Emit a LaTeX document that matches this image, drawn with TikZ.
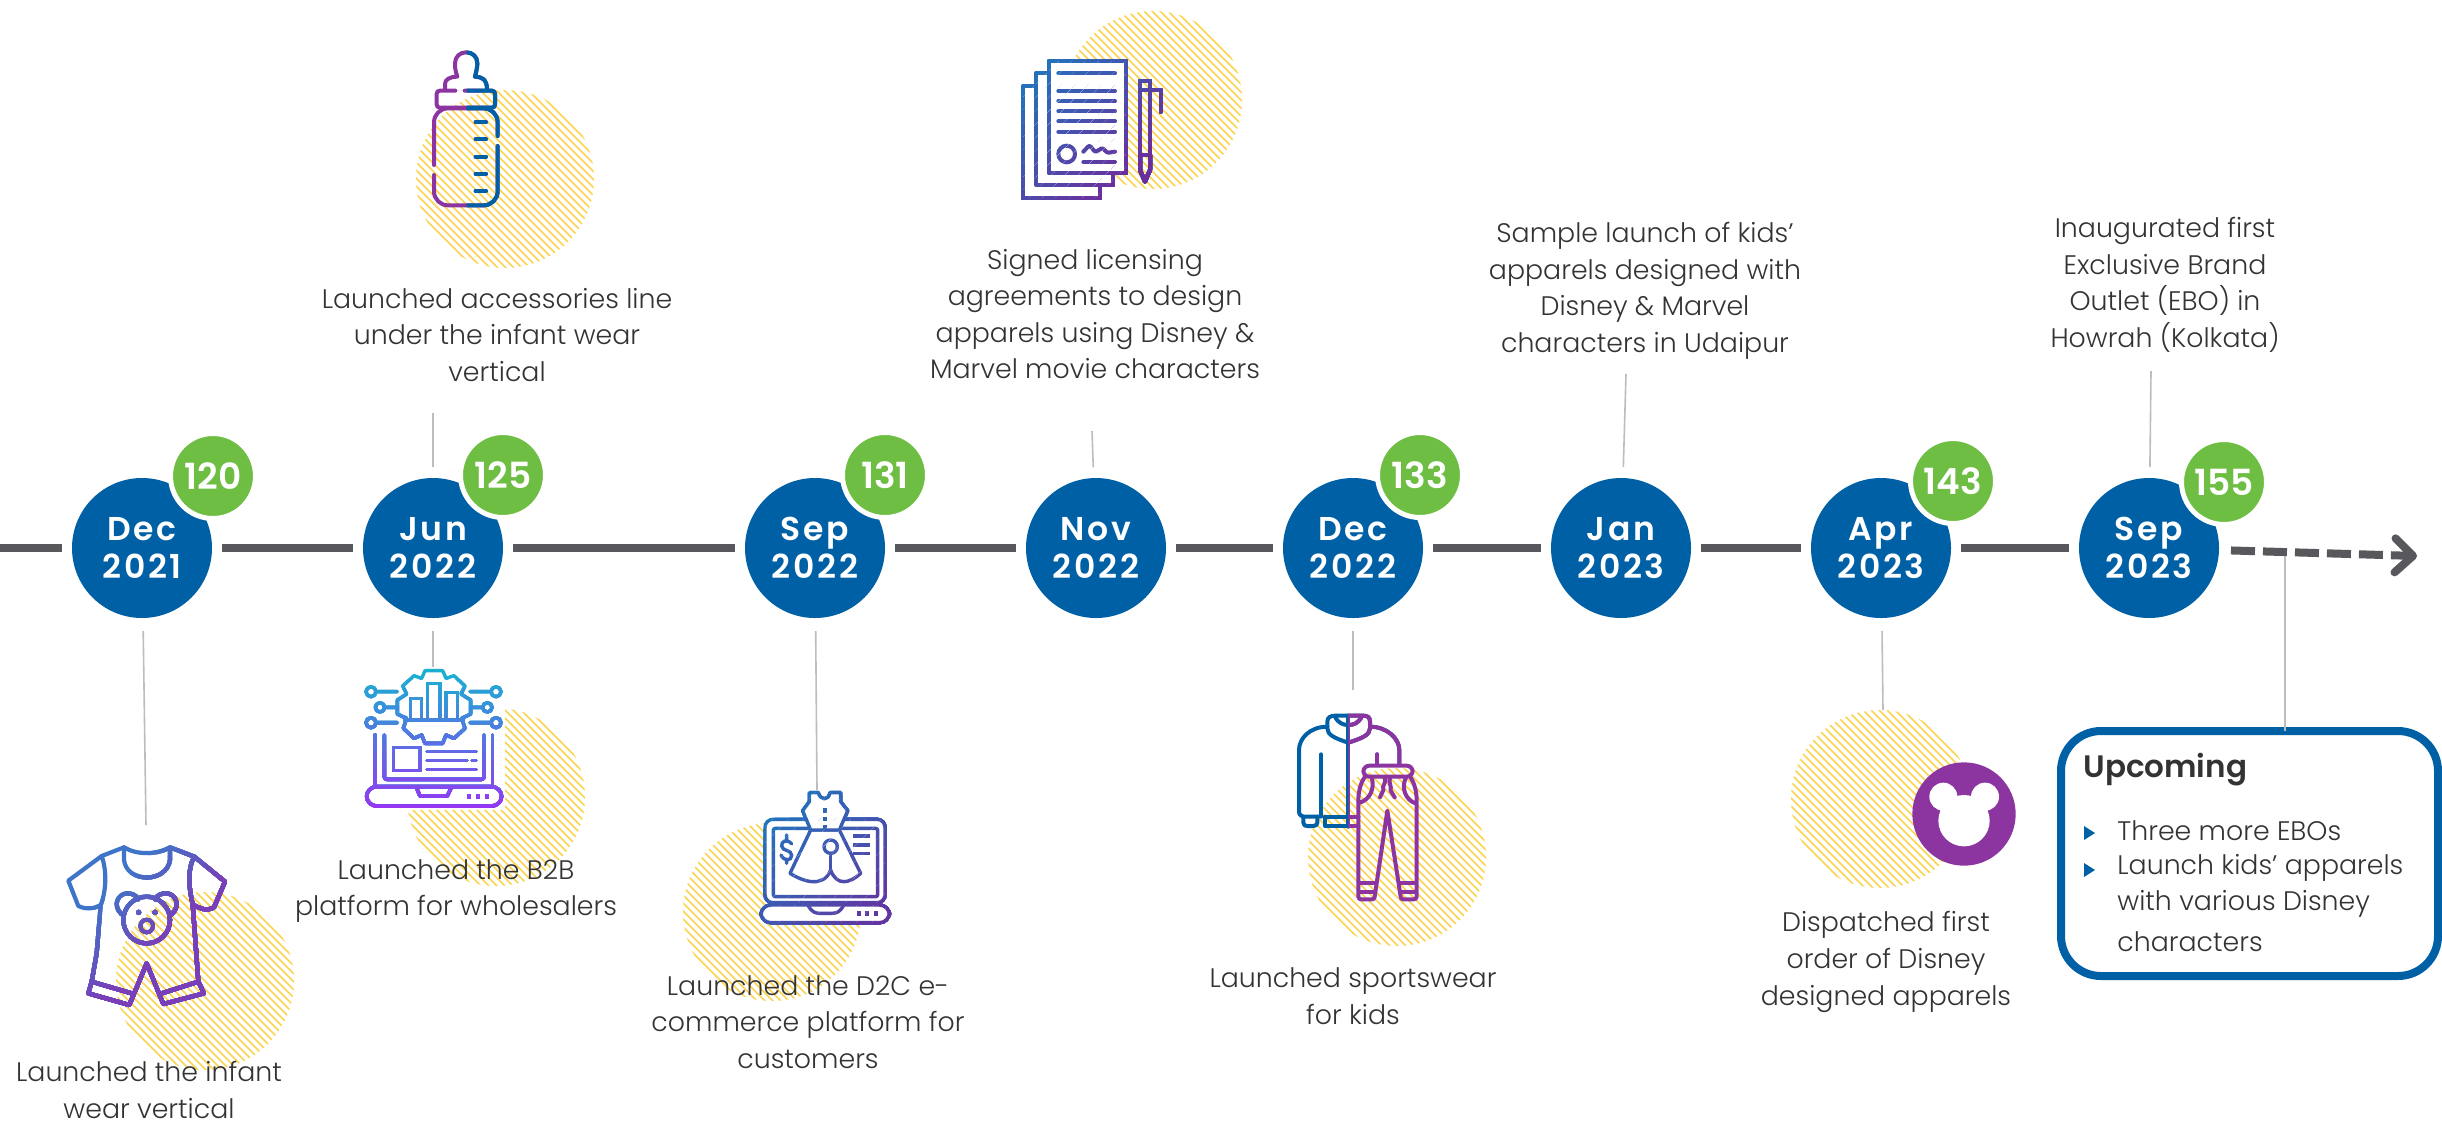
\documentclass[tikz,border=0pt]{standalone}
\usepackage{fontspec}
\setmainfont{Poppins}[UprightFont=* Light,BoldFont=* SemiBold]
\usetikzlibrary{arrows.meta,calc}
\definecolor{navy}{HTML}{0060A5}
\definecolor{grn}{HTML}{6FBE44}
\definecolor{tl}{HTML}{58585C}
\definecolor{txt}{HTML}{333333}
\definecolor{hat}{HTML}{FCD44F}
\definecolor{conn}{HTML}{BDBDBD}
\definecolor{prp}{HTML}{8C35A0}
\definecolor{gA}{HTML}{1AAED2}
\definecolor{gB}{HTML}{9B32F5}
\definecolor{gC}{HTML}{1F75BD}
\definecolor{gD}{HTML}{6B2E9E}
\definecolor{gE}{HTML}{3F75C8}
\definecolor{gF}{HTML}{7A3FB8}
\newcommand\zu{0.16667pt}
\tikzset{
  datec/.style={circle,fill=navy,text=white,minimum size=70pt,inner sep=0pt,outer sep=0pt,align=center,
    font=\fontsize{16.5}{19}\selectfont\bfseries\addfontfeatures{LetterSpace=8}},
  cnt/.style={circle,fill=grn,draw=white,line width=2.5pt,text=white,minimum size=42.5pt,inner sep=0pt,outer sep=0pt,
    font=\fontsize{18}{19}\selectfont\bfseries},
  lab/.style={align=center,inner sep=0pt,text=txt,font=\fontsize{13.4}{18.3}\selectfont},
  llab/.style={anchor=west,inner sep=0pt,text=txt,font=\fontsize{13.4}{18.3}\selectfont},
  head/.style={anchor=west,inner sep=0pt,text=txt,font=\fontsize{15.5}{18}\selectfont\bfseries},
  tline/.style={draw=tl,line width=4pt,shorten <=5pt,shorten >=5pt},
  dline/.style={draw=tl,line width=4pt,dash pattern=on 12pt off 4pt,shorten <=6pt,
    -{Straight Barb[length=9pt,width=17pt,round]}},
  cline/.style={draw=conn,line width=0.8pt},
  hatchl/.style={draw=hat,line width=0.8pt},
  ico/.style={draw=bandc,line width=2pt,line cap=round,line join=round},
  boxu/.style={draw=navy,line width=4pt,rounded corners=20pt,fill=white,minimum width=188.5pt,minimum height=122.5pt,outer sep=0pt,inner sep=0pt},
}
\newcommand\hatchc[2]{%
  \begin{scope}
    \clip (#1,#2) circle (89);
    \foreach \k in {-200,-192,...,200}{\draw[hatchl] ({#1+\k-100},{#2-100}) -- ({#1+\k+100},{#2+100});}
  \end{scope}}
% #1 origin, #2 painter, #3 colour a, #4 colour b, #5 start, #6 end
\newcommand\gradV[6]{%
  \begin{scope}[shift={(#1)},x=\zu,y=-\zu]
    \foreach \k in {0,...,15}{%
      \pgfmathsetmacro\pc{\k/15*100}%
      \pgfmathsetmacro\cc{\k==0?-1000:#5+(#6-#5)*\k/15}%
      \colorlet{bandc}{#4!\pc!#3}%
      \begin{scope}\clip (-2000,\cc) rectangle (3000,3000); #2\end{scope}}
  \end{scope}}
\newcommand\gradD[6]{%
  \begin{scope}[shift={(#1)},x=\zu,y=-\zu]
    \foreach \k in {0,...,15}{%
      \pgfmathsetmacro\pc{\k/15*100}%
      \pgfmathsetmacro\cc{\k==0?-1000:#5+(#6-#5)*\k/15}%
      \colorlet{bandc}{#4!\pc!#3}%
      \begin{scope}\clip ({\cc+3000},-3000) -- ({\cc-3000},3000) -- ({\cc+3000},3000) -- cycle; #2\end{scope}}
  \end{scope}}
% split colours at a vertical line
\newcommand\twotone[5]{%
  \begin{scope}[shift={(#1)},x=\zu,y=-\zu]
    \colorlet{bandc}{#3}#2
    \begin{scope}\clip (#5,-100) rectangle (3000,3000);\colorlet{bandc}{#4}#2\end{scope}
  \end{scope}}
\newcommand\icoBottle{%
  \draw[ico] (315,208) -- (315,192) .. controls (315,178) and (330,170) .. (352,170) .. controls (345,150) and (345,140) .. (345,130) .. controls (345,110) and (360,97) .. (378,97) .. controls (398,97) and (412,110) .. (412,130) .. controls (412,140) and (410,150) .. (405,170) .. controls (425,170) and (441,178) .. (441,208);
  \draw[ico,rounded corners=1.5pt] (346,212) -- (290,212) -- (290,263) -- (465,263) -- (465,212) -- (374,212);
  \draw[ico,rounded corners=7pt] (282,435) -- (282,265) -- (473,265) -- (473,348);
  \draw[ico,rounded corners=7pt] (473,378) -- (473,556) -- (282,556) -- (282,465);
  \foreach \yy in {307,358,410,461,513}{\draw[ico] (407,\yy) -- (438,\yy);}
}
\newcommand\icoBtb{%
  \draw[ico,line width=1.7pt] (255,62) -- (308,62) -- (318,85) -- (342,77) -- (375,108) -- (363,132) -- (392,150) -- (392,192) -- (365,205) -- (375,235) -- (342,265) -- (318,255) -- (308,280) -- (255,280) -- (245,255) -- (222,265) -- (190,235) -- (200,205) -- (172,192) -- (172,150) -- (200,132) -- (188,108) -- (222,77) -- (245,85) -- cycle;
  \draw[ico,line width=1.7pt,line join=miter] (212,208) -- (212,145) -- (245,145) -- (245,208) (262,208) -- (262,100) -- (300,100) -- (300,208) (318,208) -- (318,128) -- (352,128) -- (352,208) (195,210) -- (370,210);
  \draw[ico,line width=1.7pt] (93,125) circle (15) (108,125) -- (172,125) (120,172) circle (14) (135,172) -- (172,172) (93,218) circle (15) (108,218) -- (172,218);
  \draw[ico,line width=1.7pt] (468,125) circle (15) (390,125) -- (453,125) (442,172) circle (14) (392,172) -- (428,172) (468,218) circle (15) (390,218) -- (453,218);
  \draw[ico,line width=1.7pt] (105,255) -- (105,408) (458,255) -- (458,408);
  \draw[ico,line width=1.7pt,rounded corners=1.2pt] (133,255) -- (133,388) -- (432,388) -- (432,255);
  \draw[ico,line width=1.7pt,line join=miter] (160,292) rectangle (240,362) (262,305) -- (408,305) (262,332) -- (380,332) (262,358) -- (408,358);
  \draw[ico,line width=1.7pt] (397,332) -- (407,332);
  \draw[ico,line width=1.7pt,rounded corners=5pt] (80,410) -- (80,468) -- (485,468) -- (485,410) -- cycle;
  \draw[ico,line width=1.7pt] (228,410) -- (240,438) -- (322,438) -- (335,410);
  \draw[ico,line width=2.2pt,line cap=butt] (382,440) -- (394,440) (409,440) -- (421,440) (436,440) -- (448,440);
}
\newcommand\icoDtc{%
  \draw[ico,line width=1.7pt,fill=white,rounded corners=4pt] (255,118) rectangle (615,368);
  \draw[ico,line width=1.7pt,rounded corners=1pt] (280,145) rectangle (593,350);
  \draw[ico,line width=1.7pt,fill=white,rounded corners=5pt] (243,375) -- (243,428) -- (628,428) -- (628,375) -- cycle;
  \draw[ico,line width=1.7pt] (385,378) .. controls (395,395) and (405,400) .. (420,400) -- (455,400) .. controls (470,400) and (480,395) .. (490,378);
  \draw[ico,line width=2.2pt,line cap=butt] (531,400) -- (543,400) (556,400) -- (568,400) (582,400) -- (594,400);
  \draw[ico,line width=1.7pt] (335,192) .. controls (322,175) and (303,183) .. (305,198) .. controls (307,215) and (335,208) .. (335,226) .. controls (335,243) and (312,245) .. (303,225) (320,165) -- (320,182) (320,238) -- (320,250);
  \draw[ico,line width=1.7pt,line cap=butt] (520,168) -- (570,168) (520,195) -- (570,195) (520,220) -- (570,220);
  \draw[ico,line width=1.7pt,fill=white] (392,150) -- (330,280) .. controls (370,305) and (430,325) .. (452,270) .. controls (470,320) and (510,310) .. (542,280) -- (478,150) -- cycle;
  \draw[ico,line width=1.7pt,fill=white] (388,38) -- (415,38) .. controls (420,60) and (445,65) .. (450,38) -- (482,38) -- (482,65) -- (503,92) -- (478,150) -- (392,150) -- (368,92) -- (388,65) -- cycle;
  \draw[ico,line width=2.2pt,line cap=butt] (429,92) -- (441,92) (429,117) -- (441,117) (429,142) -- (441,142);
  \draw[ico,line width=1.7pt,fill=white] (452,200) circle (20);
  \draw[ico,line width=1.7pt] (452,220) -- (452,270);
}
\newcommand\icoDoc{%
  \draw[ico,fill=white,line join=round] (70,228) rectangle (300,565);
  \draw[ico,fill=white] (108,190) rectangle (338,525);
  \draw[ico,fill=white] (146,152) rectangle (378,490);
  \foreach \yy in {190,243,273,304,334,365}{\draw[ico] (175,\yy) -- (345,\yy);}
  \draw[ico] (200,432) circle (25);
  \draw[ico] (250,425) .. controls (258,420) and (262,408) .. (268,408) .. controls (275,408) and (280,425) .. (288,425) .. controls (295,425) and (298,415) .. (305,415) .. controls (312,415) and (318,428) .. (325,428) -- (345,425);
  \draw[ico] (250,456) -- (345,456);
  \draw[ico] (420,212) rectangle (450,435) (420,240) -- (450,240) -- (482,240) -- (482,305);
  \draw[ico] (420,435) -- (420,480) -- (435,515) -- (450,480) -- (450,435);
}
\newcommand\icoSport{%
  \draw[ico] (235,128) .. controls (195,115) and (172,105) .. (172,85) -- (172,65) .. controls (172,52) and (182,47) .. (195,47) -- (280,47) .. controls (293,47) and (300,52) .. (300,65) -- (300,85) .. controls (300,105) and (275,115) .. (235,128);
  \draw[ico] (195,50) .. controls (205,70) and (220,75) .. (235,75) .. controls (250,75) and (265,70) .. (275,50);
  \draw[ico] (172,80) .. controls (120,80) and (87,115) .. (87,150) -- (87,335) .. controls (87,345) and (95,350) .. (105,350) -- (145,350);
  \draw[ico] (300,80) .. controls (350,80) and (388,115) .. (388,150) -- (388,195);
  \draw[ico] (235,47) -- (235,380);
  \draw[ico] (153,163) -- (153,350) (322,163) -- (322,195);
  \draw[ico] (100,350) -- (100,368) .. controls (100,376) and (106,378) .. (112,378) -- (130,378) .. controls (138,378) and (142,374) .. (142,368) -- (142,350);
  \draw[ico] (165,350) -- (265,350) (165,350) -- (165,378) -- (265,378);
}
\newcommand\icoPants{%
  \draw[ico,rounded corners=3pt] (280,197) rectangle (428,230);
  \draw[ico] (285,230) .. controls (270,250) and (265,280) .. (265,300) -- (265,590) .. controls (265,597) and (270,598) .. (275,598) -- (305,598) .. controls (312,598) and (314,595) .. (314,590) -- (352,332) -- (392,590) .. controls (392,595) and (395,598) .. (400,598) -- (430,598) .. controls (436,598) and (440,596) .. (440,590) -- (440,300) .. controls (440,280) and (435,250) .. (420,230);
  \draw[ico] (268,308) .. controls (300,300) and (315,265) .. (305,232) (437,310) .. controls (405,300) and (393,262) .. (408,232);
  \draw[ico] (345,232) .. controls (350,250) and (335,255) .. (340,270) -- (330,292) (360,232) .. controls (355,250) and (365,255) .. (362,272) -- (374,292);
  \draw[ico] (268,550) -- (318,550) (268,575) -- (315,575) (388,550) -- (437,550) (392,575) -- (437,575);
}
\newcommand\icoBaby{%
  \draw[ico,line width=2.1pt] (222,52) .. controls (260,75) and (320,75) .. (360,52) -- (433,80) -- (525,155) -- (492,232) .. controls (470,245) and (445,235) .. (428,222) .. controls (418,180) and (410,120) .. (433,80);
  \draw[ico,line width=2.1pt] (428,222) -- (445,455);
  \draw[ico,line width=2.1pt] (222,52) -- (155,78) -- (55,152) -- (85,228) .. controls (110,240) and (135,235) .. (152,225) .. controls (170,180) and (170,120) .. (155,78);
  \draw[ico,line width=2.1pt] (152,225) -- (140,370) -- (125,455);
  \draw[ico,line width=2.1pt] (222,55) -- (222,90) .. controls (230,160) and (350,160) .. (360,90) -- (360,55);
  \draw[ico,line width=2.1pt] (125,455) -- (115,490) -- (238,525) -- (290,400) -- (340,522) -- (462,490) -- (445,455) -- (335,490);
  \draw[ico,line width=2.1pt] (125,455) -- (245,490);
  \draw[ico,line width=2.1pt] (290,270) circle (70);
  \draw[ico,line width=2.1pt] (215,253) .. controls (185,225) and (205,190) .. (232,190) .. controls (248,190) and (260,197) .. (265,208);
  \draw[ico,line width=2.1pt] (365,253) .. controls (395,225) and (375,190) .. (348,190) .. controls (332,190) and (320,197) .. (315,208);
  \draw[ico,line width=1.8pt] (290,288) circle (19);
  \fill[bandc] (266,247) circle (8) (315,247) circle (8);
}
\begin{document}
\begin{tikzpicture}[x=0.5pt,y=-0.5pt]
\useasboundingbox (0,0) rectangle (2442,1121);
\fill[white] (0,0) rectangle (2442,1121);
% hatched discs
\hatchc{205}{981}
\hatchc{505}{179}
\hatchc{496}{797}
\hatchc{772}{912}
\hatchc{1153}{100}
\hatchc{1397}{857}
\hatchc{1880}{799}
% date nodes
\node[datec] (d1) at (142,548) {Dec\\2021};
\node[datec] (d2) at (433,548) {Jun\\2022};
\node[datec] (d3) at (815,548) {Sep\\2022};
\node[datec] (d4) at (1096,548) {Nov\\2022};
\node[datec] (d5) at (1353,548) {Dec\\2022};
\node[datec] (d6) at (1621,548) {Jan\\2023};
\node[datec] (d7) at (1881,548) {Apr\\2023};
\node[datec] (d8) at (2149,548) {Sep\\2023};
\node[cnt] (n1) at (213,476) {120};
\node[cnt] (n2) at (503,475) {125};
\node[cnt] (n3) at (885,475) {131};
\node[cnt] (n5) at (1420,475) {133};
\node[cnt] (n7) at (1953,481) {143};
\node[cnt] (n8) at (2224,482) {155};
% timeline
\coordinate (t0) at (0,548);
\coordinate (tend) at (2417,556);
\draw[tline,shorten <=0pt] (t0) -- (d1);
\draw[tline] (d1) -- (d2);
\draw[tline] (d2) -- (d3);
\draw[tline] (d3) -- (d4);
\draw[tline] (d4) -- (d5);
\draw[tline] (d5) -- (d6);
\draw[tline] (d6) -- (d7);
\draw[tline] (d7) -- (d8);
\draw[dline] (d8) -- (tend);
% connectors
\coordinate (c1) at (146,825);
\coordinate (c2a) at (433,413);
\coordinate (c2b) at (433,667);
\coordinate (c3) at (817,790);
\coordinate (c4) at (1092,431);
\coordinate (c5) at (1353,690);
\coordinate (c6) at (1626,374);
\coordinate (c7) at (1883,710);
\coordinate (c8) at (2151,371);
\coordinate (u1) at (2285,556);
\draw[cline,shorten <=6.5pt] (d1) -- (c1);
\draw[cline,shorten <=5.5pt] (d2) -- (c2a);
\draw[cline,shorten <=6.5pt] (d2) -- (c2b);
\draw[cline,shorten <=6.5pt] (d3) -- (c3);
\draw[cline,shorten <=5.5pt] (d4) -- (c4);
\draw[cline,shorten <=6.5pt] (d5) -- (c5);
\draw[cline,shorten <=5.5pt] (d6) -- (c6);
\draw[cline,shorten <=6.5pt] (d7) -- (c7);
\draw[cline,shorten <=5.5pt] (d8) -- (c8);
% icons
\fill[white] (366,668) rectangle (505,810);
\twotone{340,20}{\icoBottle}{prp}{navy}{380}
\gradV{340,650}{\icoBtb}{gA}{gB}{60}{470}
\gradD{680,780}{\icoDtc}{gC}{gD}{350}{1050}
\gradD{1000,10}{\icoDoc}{gC}{gD}{250}{850}
\twotone{1270,700}{\icoSport}{navy}{prp}{235}
\begin{scope}[shift={(1270,700)},x=\zu,y=-\zu]\colorlet{bandc}{prp}\icoPants\end{scope}
\gradD{50,830}{\icoBaby}{gE}{gF}{350}{650}
% mickey
\begin{scope}[shift={(1890,750)},x=\zu,y=-\zu]
  \fill[prp] (222,192) circle (155);
  \fill[white] (222,212) circle (77) (160,140) circle (42) (285,140) circle (42);
\end{scope}
% texts
\node[lab] (a) at (497,335) {Launched accessories line\\under the infant wear\\vertical};
\node[lab] (b) at (1095,314) {Signed licensing\\agreements to design\\apparels using Disney \&\\Marvel movie characters};
\node[lab] (c) at (1645,291) {Sample launch of kids’\\apparels designed with\\Disney \& Marvel\\characters in Udaipur};
\node[lab] (e) at (2165,285) {Inaugurated first\\Exclusive Brand\\Outlet (EBO) in\\Howrah (Kolkata)};
\node[lab] (f) at (149,1090) {Launched the infant\\wear vertical};
\node[lab] (g) at (456,891) {Launched the B2B\\platform for wholesalers};
\node[lab] (h) at (808,1022) {Launched the D2C e-\\commerce platform for\\customers};
\node[lab] (i) at (1353,996) {Launched sportswear\\for kids};
\node[lab] (j) at (1886,962) {Dispatched first\\order of Disney\\designed apparels};
% upcoming box
\node[boxu] (up) at (2249.5,853.5) {};
\draw[cline] (u1) -- (u1 |- up.north);
\node[head] (uh) at (2083,770) {Upcoming};
\fill[navy] (2084,826) -- (2095,833) -- (2084,840) -- cycle;
\fill[navy] (2084,863) -- (2095,870) -- (2084,877) -- cycle;
\node[llab] (u2) at (2117,831) {Three more EBOs};
\node[llab] (u3) at (2117,868) {Launch kids’ apparels};
\node[llab] (u4) at (2117,904) {with various Disney};
\node[llab] (u5) at (2117,942) {characters};
\end{tikzpicture}
\end{document}
